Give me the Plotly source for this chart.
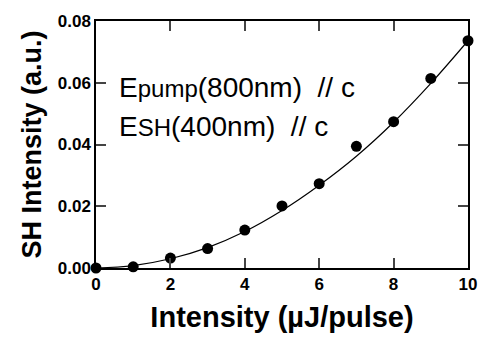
import plotly.graph_objects as go

pulse_energy = [0, 1, 2, 3, 4, 5, 6, 7, 8, 9, 10]
sh_intensity = [0.0, 0.0004, 0.0032, 0.0063, 0.0123, 0.0201, 0.0273, 0.0394, 0.0474, 0.0614, 0.0736]

# Fit curve
fit_x = [0, 1, 2, 3, 4, 5, 6, 7, 8, 9, 10]
fit_y = [0.0, 0.0008, 0.0030, 0.0066, 0.0118, 0.0186, 0.0268, 0.0362, 0.0472, 0.0598, 0.0736]

x_tickvals = [0, 2, 4, 6, 8, 10]
y_tickvals = [0.00, 0.02, 0.04, 0.06, 0.08]
y_ticktext = ["0.00", "0.02", "0.04", "0.06", "0.08"]

FONT = "Liberation Sans, Arial, sans-serif"

fig = go.Figure()
fig.add_trace(go.Scatter(x=fit_x, y=fit_y, mode="lines", line=dict(color="black", width=1.2, shape="spline"),
                         hoverinfo="skip", cliponaxis=False))
fig.add_trace(go.Scatter(x=pulse_energy, y=sh_intensity, mode="markers",
                         marker=dict(color="black", size=11), cliponaxis=False))

fig.update_layout(
    width=489, height=340,
    margin=dict(l=96, r=13, t=17, b=72),
    plot_bgcolor="white", paper_bgcolor="white",
    showlegend=False,
    font=dict(family=FONT, color="black"),
)
fig.update_xaxes(
    range=[0, 10], tickvals=x_tickvals, ticks="inside", ticklen=10, tickwidth=1.5,
    showline=True, linecolor="black", linewidth=1.5, mirror="allticks", showgrid=False, zeroline=False,
    tickfont=dict(family=FONT, size=17, weight="bold", color="black"),
    title=dict(text="Intensity (\u00b5J/pulse)", font=dict(family=FONT, size=29, weight="bold", color="black"), standoff=14),
)
fig.update_yaxes(
    range=[0, 0.08], tickvals=y_tickvals, ticktext=y_ticktext, ticks="inside", ticklen=10, tickwidth=1.5,
    showline=True, linecolor="black", linewidth=1.5, mirror="allticks", showgrid=False, zeroline=False,
    tickfont=dict(family=FONT, size=17, weight="bold", color="black"),
    title=dict(text="SH Intensity (a.u.)", font=dict(family=FONT, size=27, weight="bold", color="black"), standoff=8),
)

fig.add_annotation(xref="paper", yref="paper", x=0.056, y=0.732, xanchor="left", yanchor="middle",
                   text="E<span style='font-size:24px'>pump</span>(800nm)  // c", showarrow=False,
                   font=dict(family=FONT, size=28, color="black"))
fig.add_annotation(xref="paper", yref="paper", x=0.056, y=0.572, xanchor="left", yanchor="middle",
                   text="E<span style='font-size:24px'>SH</span>(400nm)  // c", showarrow=False,
                   font=dict(family=FONT, size=28, color="black"))

fig.write_html("out.html")
